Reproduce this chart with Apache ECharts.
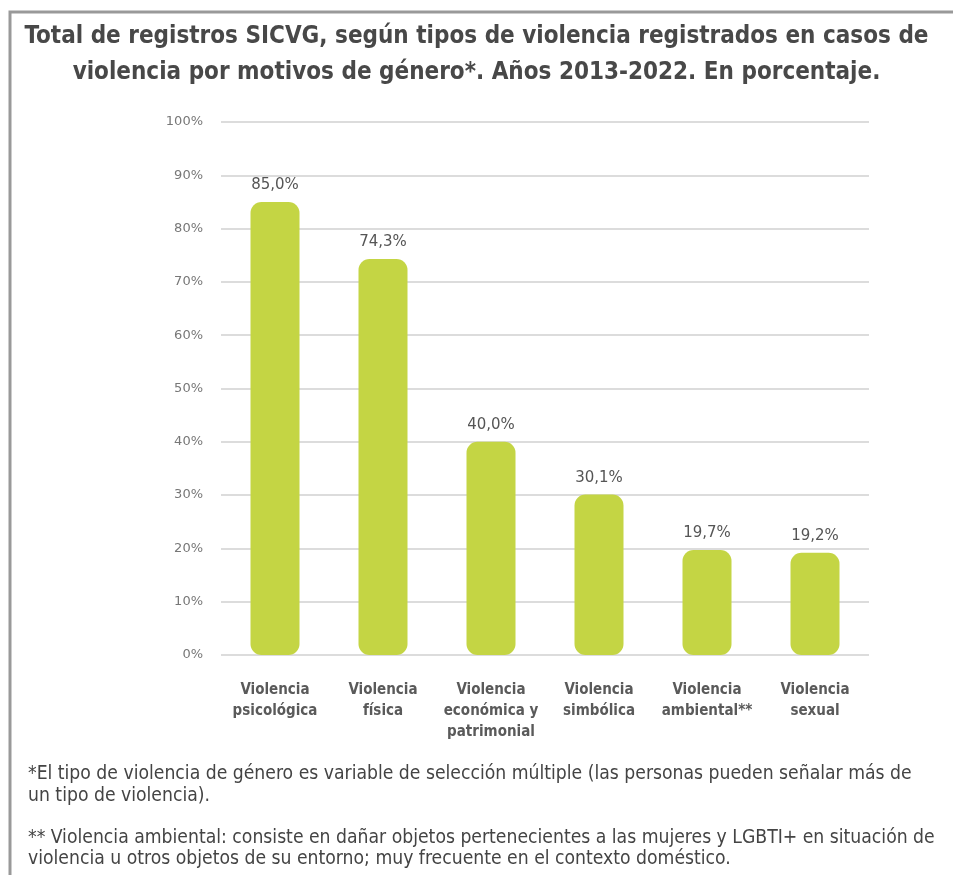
<!DOCTYPE html>
<html>
<head>
<meta charset="utf-8">
<script src="https://cdn.jsdelivr.net/npm/echarts@6/dist/echarts.min.js"></script>
<style>
html,body{margin:0;padding:0;background:#fff;}
#chart{width:953px;height:875px;}
</style>
</head>
<body>
<div id="chart"></div>
<script>
const titleLines = ['Total de registros SICVG, según tipos de violencia registrados en casos de', 'violencia por motivos de género*. Años 2013-2022. En porcentaje.'];
const categories = ['Violencia\npsicológica', 'Violencia\nfísica', 'Violencia\neconómica y\npatrimonial', 'Violencia\nsimbólica', 'Violencia\nambiental**', 'Violencia\nsexual'];
const values = [85.0, 74.3, 40.0, 30.1, 19.7, 19.2];
const yTicks = { min: 0, max: 100, interval: 10 };
const notes = [
  '*El tipo de violencia de género es variable de selección múltiple (las personas pueden señalar más de',
  'un tipo de violencia).',
  '** Violencia ambiental: consiste en dañar objetos pertenecientes a las mujeres y LGBTI+ en situación de',
  'violencia u otros objetos de su entorno; muy frecuente en el contexto doméstico.'
];

const narrow = '"DejaVu Sans Condensed", "Liberation Sans Narrow", sans-serif';
const wide = '"DejaVu Sans", "Noto Sans", sans-serif';

const chart = echarts.init(document.getElementById('chart'));
chart.setOption({
  backgroundColor: '#ffffff',
  animation: false,
  title: {
    text: titleLines.join('\n'),
    left: 'center',
    top: 14,
    textStyle: { fontFamily: narrow, fontWeight: 'bold', fontSize: 24, color: '#484848', lineHeight: 36 }
  },
  grid: { left: 221, right: 84, top: 122, bottom: 220 },
  xAxis: {
    type: 'category',
    data: categories,
    axisLine: { show: false },
    axisTick: { show: false },
    axisLabel: { margin: 25, fontFamily: narrow, fontWeight: 'bold', fontSize: 15, color: '#5a5a5a', lineHeight: 21, interval: 0 }
  },
  yAxis: {
    type: 'value',
    min: yTicks.min, max: yTicks.max, interval: yTicks.interval,
    axisLine: { show: false },
    axisTick: { show: false },
    axisLabel: { formatter: '{value}%', margin: 18, fontFamily: wide, fontSize: 13, color: '#777' },
    splitLine: { lineStyle: { color: '#dcdcdc', width: 2 } }
  },
  series: [{
    type: 'bar',
    data: values,
    barWidth: 49,
    itemStyle: { color: '#c4d544', borderRadius: 11 },
    label: {
      show: true, position: 'top', distance: 9,
      formatter: p => p.value.toFixed(1).replace('.', ',') + '%',
      fontFamily: wide, fontSize: 15, color: '#555'
    }
  }],
  graphic: [
    { type: 'polyline', shape: { points: [[10, 900], [10, 12], [960, 12]] }, style: { fill: 'none', stroke: '#999999', lineWidth: 3 }, silent: true },
    { type: 'text', left: 28, top: 763, style: { text: notes[0] + '\n' + notes[1], fontFamily: narrow, fontSize: 19.2, fill: '#444', lineHeight: 22 } },
    { type: 'text', left: 28, top: 828, style: { text: notes[2] + '\n' + notes[3], fontFamily: narrow, fontSize: 19.2, fill: '#444', lineHeight: 21 } }
  ]
});
</script>
</body>
</html>
